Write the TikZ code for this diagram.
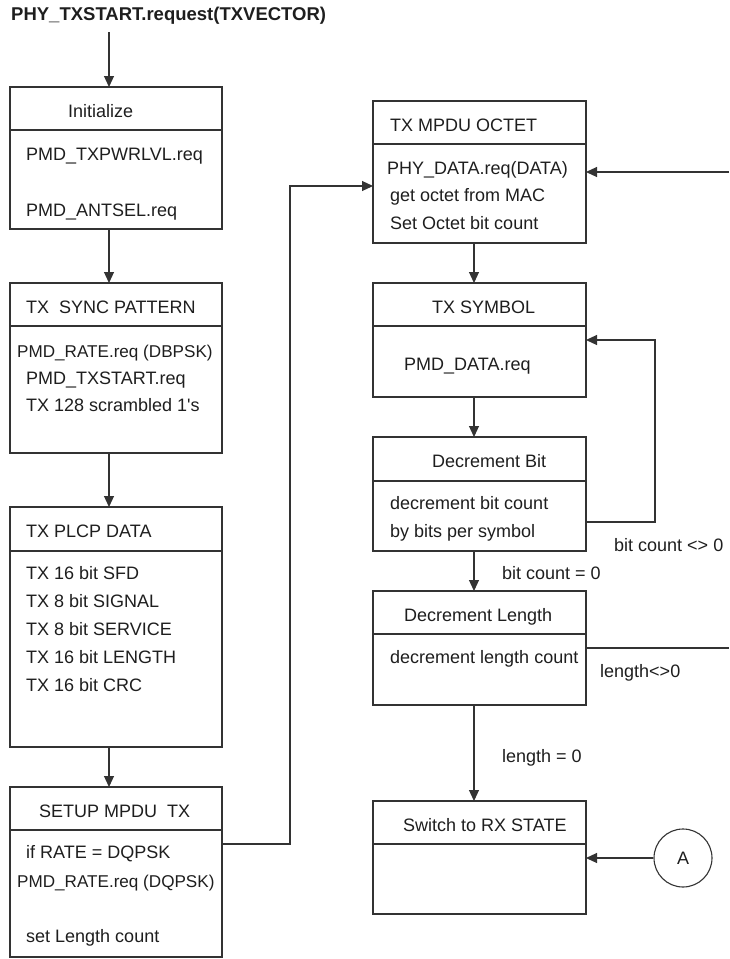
\documentclass[tikz,border=0pt]{standalone}
\usepackage{fontspec}
\setmainfont{Liberation Sans}
\usetikzlibrary{arrows.meta}
\definecolor{linec}{HTML}{333333}
\definecolor{textc}{HTML}{1E1E1E}
\begin{document}
\begin{tikzpicture}[x=1pt,y=-1pt,
  font=\fontsize{18}{22}\selectfont,
  box/.style={draw=linec, line width=1.1pt, inner sep=0pt, outer sep=0pt, anchor=north west},
  divl/.style={draw=linec, line width=1.1pt},
  txt/.style={anchor=base west, inner sep=0pt, text=textc},
  narrowtxt/.style={txt, font=\fontsize{17.1}{21}\selectfont},
  conn/.style={draw=linec, line width=1.1pt},
  arr/.style={conn, -{Triangle[length=11pt,width=10pt]}}]
\useasboundingbox (0,0) rectangle (729,959);

% ---------- left column boxes ----------
\node[box, minimum width=212pt, minimum height=142pt] (init)  at (10,87)  {};
\node[box, minimum width=212pt, minimum height=170pt] (sync)  at (10,283) {};
\node[box, minimum width=212pt, minimum height=240pt] (plcp)  at (10,507) {};
\node[box, minimum width=212pt, minimum height=170pt] (setup) at (10,787) {};
\draw[divl] (10,130) -- (222,130);
\draw[divl] (10,326) -- (222,326);
\draw[divl] (10,551) -- (222,551);
\draw[divl] (10,830) -- (222,830);

% ---------- right column boxes ----------
\node[box, minimum width=213pt, minimum height=142pt] (mpdu) at (373,101) {};
\node[box, minimum width=213pt, minimum height=114pt] (sym)  at (373,283) {};
\node[box, minimum width=213pt, minimum height=114pt] (dbit) at (373,437) {};
\node[box, minimum width=213pt, minimum height=114pt] (dlen) at (373,591) {};
\node[box, minimum width=213pt, minimum height=113pt] (rxs)  at (373,801) {};
\draw[divl] (373,144) -- (586,144);
\draw[divl] (373,326) -- (586,326);
\draw[divl] (373,481) -- (586,481);
\draw[divl] (373,634) -- (586,634);
\draw[divl] (373,844) -- (586,844);

\node[circle, draw=linec, line width=1.1pt, minimum size=58pt, inner sep=0pt, text=textc] (A) at (683,858) {A};

% ---------- texts ----------
\node[txt, font=\fontsize{18.5}{22}\selectfont] (t0) at (11,20) {\bfseries PHY\_TXSTART.request(TXVECTOR)};

\node[txt] (i0) at (68,117) {Initialize};
\node[txt] (i1) at (26,160) {PMD\_TXPWRLVL.req};
\node[txt] (i2) at (26,216) {PMD\_ANTSEL.req};

\node[txt] (s0) at (26,313) {TX\ \ SYNC PATTERN};
\node[narrowtxt] (s1) at (17,357) {PMD\_RATE.req (DBPSK)};
\node[txt] (s2) at (26,384) {PMD\_TXSTART.req};
\node[txt] (s3) at (26,411) {TX 128 scrambled 1\textquotesingle s};

\node[txt] (p0) at (26,537) {TX PLCP DATA};
\node[txt] (p1) at (26,579) {TX 16 bit SFD};
\node[txt] (p2) at (26,607) {TX 8 bit SIGNAL};
\node[txt] (p3) at (26,635) {TX 8 bit SERVICE};
\node[txt] (p4) at (26,663) {TX 16 bit LENGTH};
\node[txt] (p5) at (26,691) {TX 16 bit CRC};

\node[txt] (u0) at (39,817) {SETUP MPDU\ \ TX};
\node[txt] (u1) at (26,858) {if RATE = DQPSK};
\node[narrowtxt] (u2) at (17,887) {PMD\_RATE.req (DQPSK)};
\node[txt] (u3) at (26,942) {set Length count};

\node[txt] (m0) at (390,131) {TX MPDU OCTET};
\node[txt] (m1) at (387,174) {PHY\_DATA.req(DATA)};
\node[txt] (m2) at (390,201) {get octet from MAC};
\node[txt] (m3) at (390,229) {Set Octet bit count};

\node[txt] (y0) at (432,313) {TX SYMBOL};
\node[txt] (y1) at (404,370) {PMD\_DATA.req};

\node[txt] (b0) at (432,467) {Decrement Bit};
\node[txt] (b1) at (390,509) {decrement bit count};
\node[txt] (b2) at (390,537) {by bits per symbol};

\node[txt] (l0) at (404,621) {Decrement Length};
\node[txt] (l1) at (390,663) {decrement length count};

\node[txt] (r0) at (403,831) {Switch to RX STATE};

\node[txt] (lb1) at (614,551) {bit count <> 0};
\node[txt] (lb2) at (502,579) {bit count = 0};
\node[txt] (lb3) at (600,677) {length<>0};
\node[txt] (lb4) at (502,762) {length = 0};

% ---------- connectors ----------
\coordinate (ax) at (109,32);
\draw[arr] (ax) -- (ax |- init.north);
\draw[arr] (init.south -| ax) -- (sync.north -| ax);
\draw[arr] (sync.south -| ax) -- (plcp.north -| ax);
\draw[arr] (plcp.south -| ax) -- (setup.north -| ax);

\coordinate (c1) at (290,844);
\coordinate (c2) at (373,186);
\draw[arr] (setup.east |- c1) -- (c1) |- (c2);

\coordinate (inR) at (729,172);
\draw[arr] (inR) -- (inR -| mpdu.east);

\coordinate (rx) at (474,0);
\draw[arr] (mpdu.south -| rx) -- (sym.north -| rx);
\draw[arr] (sym.south -| rx) -- (dbit.north -| rx);
\draw[arr] (dbit.south -| rx) -- (dlen.north -| rx);
\draw[arr] (dlen.south -| rx) -- (rxs.north -| rx);

\coordinate (lp1) at (655,522);
\coordinate (lp2) at (586,340);
\draw[arr] (dbit.east |- lp1) -- (lp1) |- (lp2);

\coordinate (lo) at (729,648);
\draw[conn] (dlen.east |- lo) -- (lo);

\draw[arr] (A.west) -- (A.west -| rxs.east);
\end{tikzpicture}
\end{document}
